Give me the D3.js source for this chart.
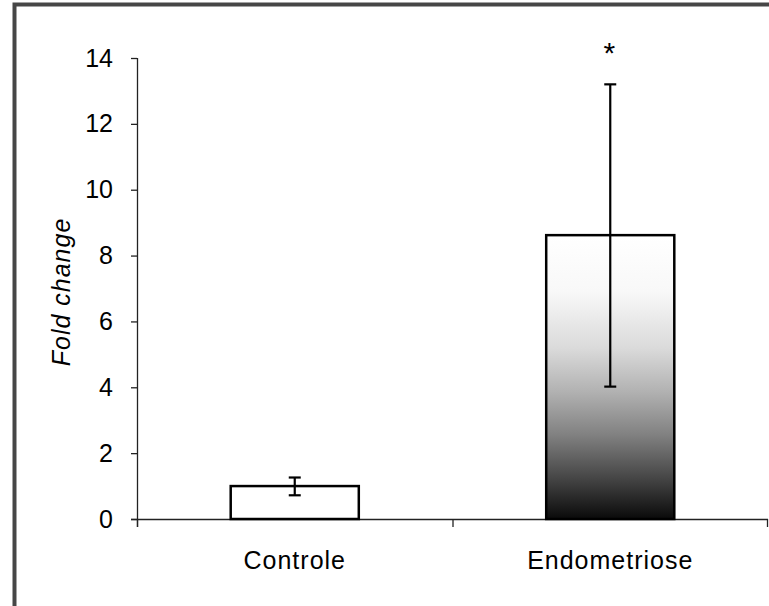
<!DOCTYPE html>
<html>
<head>
<meta charset="utf-8">
<script src="https://cdn.jsdelivr.net/npm/d3@7"></script>
<style>
  body { margin: 0; background: #fff; }
  svg { display: block; }
  text { font-family: "Liberation Sans", Arial, sans-serif; fill: #000; }
</style>
</head>
<body>
<div id="plot"></div>
<script>
// data
var groups = ["Controle", "Endometriose"];
var means = [1.0, 8.62];
var errLow = [0.72, 4.02];
var errHigh = [1.26, 13.2];
var marks = ["", "*"];
var yTicks = [0, 2, 4, 6, 8, 10, 12, 14];

var W = 769, H = 606;
var margin = {t: 58, r: 1, b: 87, l: 137};
var width = W - margin.l - margin.r,
    height = H - margin.t - margin.b;

var svg = d3.select('#plot').append('svg')
    .attr('width', W)
    .attr('height', H);

// gradient for the second bar (white top -> black bottom)
var defs = svg.append('defs');
var grad = defs.append('linearGradient')
    .attr('id', 'barGrad')
    .attr('x1', 0).attr('y1', 0).attr('x2', 0).attr('y2', 1);
[[0, '#ffffff'], [20, '#f8f8f8'], [40, '#dadada'], [55, '#b2b2b2'],
 [70, '#828282'], [85, '#484848'], [100, '#0a0a0a']].forEach(function(s){
    grad.append('stop').attr('offset', s[0] + '%').attr('stop-color', s[1]);
});

// frame round the picture (only left and top visible)
svg.append('rect')
    .attr('x', 14.5).attr('y', 4.5)
    .attr('width', 900).attr('height', 900)
    .attr('fill', 'none')
    .attr('stroke', '#464646')
    .attr('stroke-width', 4);

var x = d3.scaleBand().domain(groups).range([0, width])
    .paddingInner(0.594).paddingOuter(0.297);
var y = d3.scaleLinear().domain([0, 14]).range([height, 0]);

var g = svg.append('g').attr('transform', 'translate(' + margin.l + ',' + margin.t + ')');

// y axis
var axisY = d3.axisLeft(y).tickValues(yTicks).tickSize(6).tickPadding(18).tickFormat(d3.format('d'));
var gy = g.append('g').attr('class', 'axis-y').call(axisY);
gy.select('.domain').remove();
gy.append('line')
    .attr('x1', 0.5).attr('x2', 0.5)
    .attr('y1', y(14)).attr('y2', height + 8)
    .attr('stroke', '#222').attr('stroke-width', 1.3);
gy.selectAll('.tick line').attr('stroke', '#222').attr('stroke-width', 1.3);
gy.selectAll('.tick text').style('font-size', '25px').attr('fill', '#000');

// x axis
g.append('line')
    .attr('x1', -6).attr('x2', width)
    .attr('y1', height + 0.5).attr('y2', height + 0.5)
    .attr('stroke', '#222').attr('stroke-width', 1.3);
var bounds = [0, x.step(), 2 * x.step() - 1];
g.selectAll('.xtick').data(bounds).enter().append('line')
    .attr('class', 'xtick')
    .attr('x1', function(d){ return d + 0.5; })
    .attr('x2', function(d){ return d + 0.5; })
    .attr('y1', height).attr('y2', height + 8)
    .attr('stroke', '#222').attr('stroke-width', 1.3);

g.selectAll('.xlab').data(groups).enter().append('text')
    .attr('class', 'xlab')
    .attr('x', function(d){ return x(d) + x.bandwidth() / 2; })
    .attr('y', height + 50)
    .attr('text-anchor', 'middle')
    .style('font-size', '25px')
    .style('letter-spacing', '1px')
    .text(function(d){ return d; });

// bars
g.selectAll('.bar').data(groups).enter().append('rect')
    .attr('class', 'bar')
    .attr('x', function(d){ return x(d); })
    .attr('y', function(d, i){ return y(means[i]); })
    .attr('width', x.bandwidth())
    .attr('height', function(d, i){ return height - y(means[i]); })
    .attr('fill', function(d, i){ return i === 0 ? '#ffffff' : 'url(#barGrad)'; })
    .attr('stroke', '#000')
    .attr('stroke-width', 2.5);

// error bars
var cap = 6;
groups.forEach(function(d, i){
    var cx = x(d) + x.bandwidth() / 2;
    var eg = g.append('g').attr('stroke', '#000').attr('stroke-width', 2.2);
    eg.append('line').attr('x1', cx).attr('x2', cx).attr('y1', y(errHigh[i])).attr('y2', y(errLow[i]));
    eg.append('line').attr('x1', cx - cap).attr('x2', cx + cap).attr('y1', y(errHigh[i])).attr('y2', y(errHigh[i]));
    eg.append('line').attr('x1', cx - cap).attr('x2', cx + cap).attr('y1', y(errLow[i])).attr('y2', y(errLow[i]));
    if (marks[i]) {
        g.append('text')
            .attr('x', cx - 1)
            .attr('y', y(errHigh[i]) - 21)
            .attr('text-anchor', 'middle')
            .style('font-size', '30px')
            .text(marks[i]);
    }
});

// y label
svg.append('text')
    .attr('transform', 'translate(70,292) rotate(-90)')
    .attr('text-anchor', 'middle')
    .style('font-size', '25px')
    .style('font-style', 'italic')
    .style('letter-spacing', '1px')
    .text('Fold change');
</script>
</body>
</html>
